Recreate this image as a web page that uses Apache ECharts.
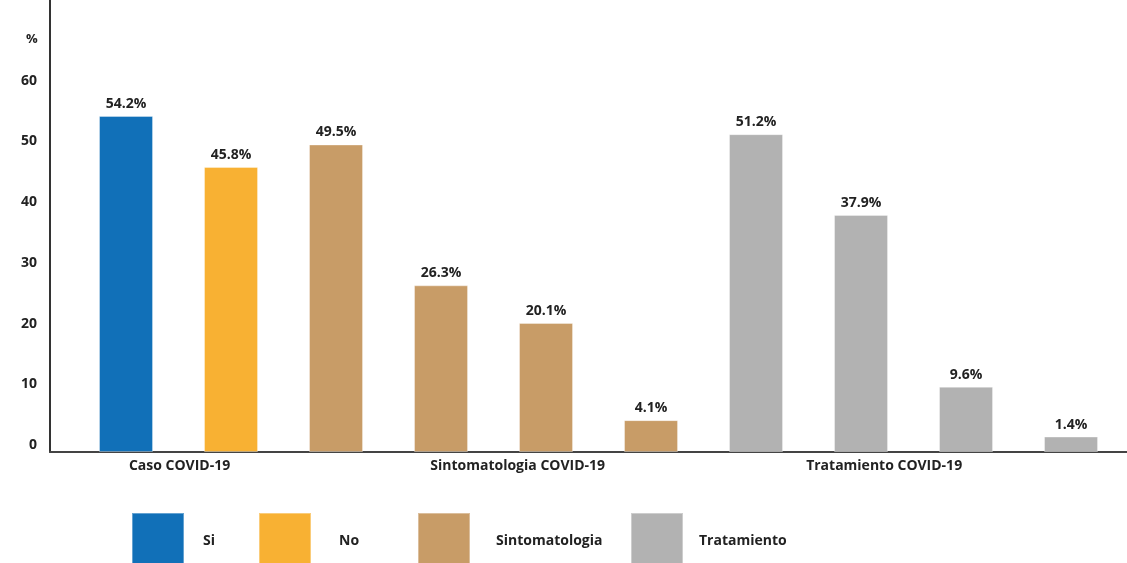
<!DOCTYPE html>
<html>
<head>
<meta charset="utf-8">
<style>
  html, body { margin: 0; padding: 0; background: #ffffff; }
  #chart { width: 1127px; height: 563px; }
</style>
<script src="https://cdn.jsdelivr.net/npm/echarts@6/dist/echarts.min.js"></script>
</head>
<body>
<div id="chart"></div>
<script>
// ---- data ----
var seriesNames = ['Si', 'No', 'Sintomatologia', 'Tratamiento'];
var siValues = [54.2];
var noValues = [45.8];
var sintomatologiaValues = [49.5, 26.3, 20.1, 4.1];
var tratamientoValues = [51.2, 37.9, 9.6, 1.4];
var groupLabels = ['Caso COVID-19', 'Sintomatologia COVID-19', 'Tratamiento COVID-19'];
var yTickLabels = [0, 10, 20, 30, 40, 50, 60];

// ---- style / layout ----
var colors = ['#1170b8', '#f8b133', '#c89c67', '#b2b2b2'];
var FONT = '"Open Sans", "Noto Sans", sans-serif';
var groupLabelPos = [0.51, 3.73, 7.22];
var legendLeft = [131, 258, 417, 630];
var legendTextGap = [14, 23, 21, 11];

var allValues = [siValues, noValues, sintomatologiaValues, tratamientoValues];
var series = [];
var idx = 0;
allValues.forEach(function (vals, s) {
  var data = vals.map(function (v) { return [idx++, v]; });
  series.push({
    name: seriesNames[s],
    type: 'bar',
    data: data,
    barWidth: 54,
    barGap: '-100%',
    itemStyle: { color: colors[s], borderColor: 'rgba(255,255,255,0.35)', borderWidth: 1 },
    label: {
      show: true,
      position: 'top',
      distance: 5,
      formatter: function (p) { return p.value[1].toFixed(1) + '%'; },
      fontFamily: FONT,
      fontWeight: 'bold',
      fontSize: 14,
      color: '#222'
    }
  });
});

var legends = seriesNames.map(function (n, i) {
  return {
    data: [n],
    left: legendLeft[i],
    top: 512,
    padding: 0,
    itemWidth: 52,
    itemHeight: 56,
    icon: 'rect',
    selectedMode: false,
    textStyle: { fontFamily: FONT, fontWeight: 'bold', fontSize: 14, color: '#222', padding: [0, 0, 0, legendTextGap[i]] }
  };
});

function groupLabelFor(v) {
  var best = 0;
  for (var i = 1; i < groupLabelPos.length; i++) {
    if (Math.abs(groupLabelPos[i] - v) < Math.abs(groupLabelPos[best] - v)) best = i;
  }
  return groupLabels[best];
}

var chart = echarts.init(document.getElementById('chart'), null, { renderer: 'canvas' });
chart.setOption({
  animation: false,
  backgroundColor: '#ffffff',
  title: {
    text: '%',
    left: 21,
    top: 28,
    textStyle: { fontFamily: FONT, fontWeight: 'bold', fontSize: 13, color: '#222' }
  },
  legend: legends,
  grid: { left: 50, right: 0, top: 0, bottom: 111, containLabel: false },
  xAxis: {
    type: 'value',
    min: -0.724,
    max: 9.533,
    splitLine: { show: false },
    axisTick: { show: false },
    axisLine: { show: true, onZero: false, lineStyle: { color: '#444', width: 2 } },
    axisLabel: {
      show: true,
      customValues: groupLabelPos,
      hideOverlap: false,
      margin: 7,
      fontFamily: FONT,
      fontWeight: 'bold',
      fontSize: 14,
      color: '#222',
      formatter: function (v) { return groupLabelFor(v); }
    }
  },
  yAxis: {
    type: 'value',
    min: -1.15,
    max: 73.3,
    startValue: -1.15,
    splitLine: { show: false },
    axisTick: { show: false },
    axisLine: { show: true, onZero: false, lineStyle: { color: '#333', width: 2 } },
    axisLabel: {
      customValues: yTickLabels,
      margin: 13,
      fontFamily: FONT,
      fontWeight: 'bold',
      fontSize: 14,
      color: '#222'
    }
  },
  series: series
});
</script>
</body>
</html>
